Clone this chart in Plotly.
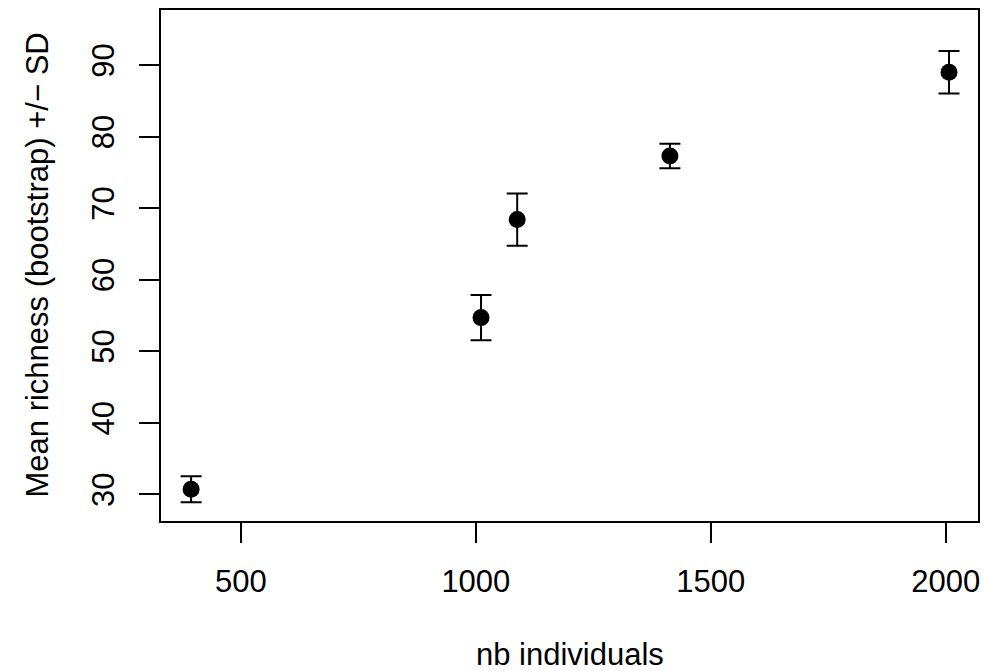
import plotly.graph_objects as go

nb_individuals = [394, 1011, 1088, 1413, 2007]
mean_richness = [30.7, 54.7, 68.4, 77.3, 89.0]
sd_richness = [1.82, 3.17, 3.64, 1.72, 2.96]

x_ticks = [500, 1000, 1500, 2000]
y_ticks = [30, 40, 50, 60, 70, 80, 90]

FONT = "Liberation Sans, Arial, Helvetica, sans-serif"
FS = 31

fig = go.Figure()
fig.add_trace(go.Scatter(
    x=nb_individuals, y=mean_richness, mode="markers",
    marker=dict(color="black", size=17, line=dict(width=0)),
    error_y=dict(type="data", array=sd_richness, visible=True,
                 color="black", thickness=2, width=10.5),
    showlegend=False, hoverinfo="x+y",
))

fig.update_layout(
    width=984, height=671,
    margin=dict(l=161, r=6, t=10, b=150, autoexpand=False),
    paper_bgcolor="white", plot_bgcolor="white",
    font=dict(family=FONT, size=FS, color="black"),
    xaxis=dict(
        range=[329.9, 2068.7], tickvals=x_ticks, ticktext=[str(v) for v in x_ticks],
        showgrid=False, zeroline=False, showline=True, linecolor="black", linewidth=2,
        mirror=True, ticks="outside", ticklen=20, tickwidth=2, tickcolor="black",
        ticklabelstandoff=12, automargin=False,
    ),
    yaxis=dict(
        range=[26.27, 97.7], tickvals=y_ticks, ticktext=[str(v) for v in y_ticks],
        showgrid=False, zeroline=False, showline=True, linecolor="black", linewidth=2,
        mirror=True, ticks="outside", ticklen=20, tickwidth=2, tickcolor="black",
        tickangle=-90, ticklabelstandoff=13, automargin=False,
    ),
    annotations=[
        dict(text="nb individuals", xref="paper", yref="paper", x=0.5, y=0,
             xanchor="center", yanchor="middle", yshift=-133, showarrow=False,
             font=dict(family=FONT, size=FS, color="black")),
        dict(text="Mean richness (bootstrap) +/\u2212 SD", xref="paper", yref="paper",
             x=0, y=0.5, xanchor="center", yanchor="middle", xshift=-124,
             textangle=-90, showarrow=False,
             font=dict(family=FONT, size=FS, color="black")),
    ],
)

fig.write_html("out.html", config={"displayModeBar": False},
               post_script="document.body.style.margin='0px';document.body.style.padding='0px';")
